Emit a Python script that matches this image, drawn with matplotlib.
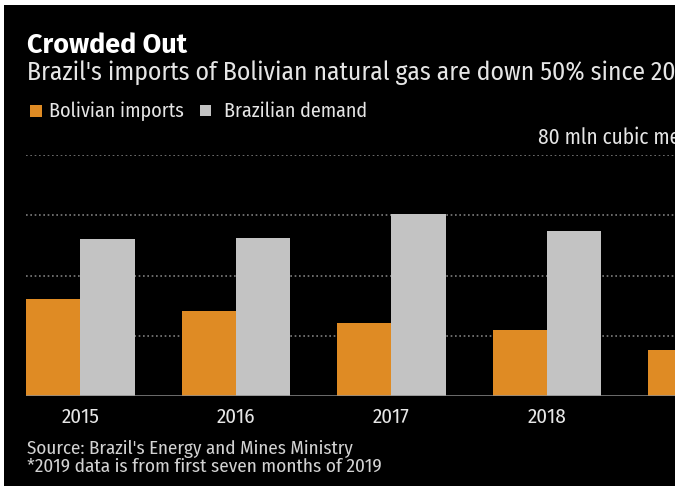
import numpy as np
import matplotlib
matplotlib.use('Agg')
import matplotlib.pyplot as plt
from matplotlib.patches import Rectangle

years = ['2015', '2016', '2017', '2018', '2019*']
bolivian_imports = [32.3, 28.4, 24.4, 22.1, 15.4]
brazilian_demand = [52.2, 52.6, 60.5, 54.9, np.nan]
grid_values = [20, 40, 60, 80]

title = 'Crowded Out'
subtitle = "Brazil's imports of Bolivian natural gas are down 50% since 2015"
legend_labels = ['Bolivian imports', 'Brazilian demand']
unit_label = '80 mln cubic meters per day'
source = "Source: Brazil's Energy and Mines Ministry"
footnote = '*2019 data is from first seven months of 2019'

ORANGE = '#DF8B24'
GRAY = '#C3C3C3'
TEXT = '#E6E6E6'
FONT = ['Fira Sans Condensed', 'DejaVu Sans']
TITLE_FONT = ['Fira Sans', 'DejaVu Sans']
plt.rcParams['font.family'] = FONT

W, H = 675, 486
fig = plt.figure(figsize=(W / 100, H / 100), dpi=100)
fig.patch.set_facecolor('white')
fig.add_artist(Rectangle((4 / W, 0), 1, 1 - 5 / H, transform=fig.transFigure,
                         facecolor='black', edgecolor='none', zorder=-10))
renderer = fig.canvas.get_renderer()


def fx(px):
    return px / W


def fy(py):
    return (H - py) / H


def fit_size(sample, target_px, weight='normal', family=None):
    t = fig.text(0, 0, sample, fontsize=10, fontweight=weight,
                 family=family if family else FONT)
    w = t.get_window_extent(renderer).width
    t.remove()
    return 10 * target_px / w


base_px, top_px = 396.3, 155.0
left_px = 26
group_px = 155.5
ax = fig.add_axes([fx(left_px), fy(base_px), 1 - fx(left_px), (base_px - top_px) / H])
ax.set_facecolor('none')
for s in ax.spines.values():
    s.set_visible(False)

x = np.arange(len(years))
bw = 0.35
ax.bar(x - bw / 2, bolivian_imports, bw, color=ORANGE, zorder=2)
ax.bar(x + bw / 2, brazilian_demand, bw, color=GRAY, zorder=2)
for v in grid_values:
    ax.axhline(v, color='#7e7e7e', lw=1.2, ls=(0, (1, 1.6)), zorder=1)
ax.axhline(0, color='#8c8c8c', lw=1.8, zorder=3)

ax.set_yticks([])
ax.set_xticks(x)
ax.set_xticklabels(years, color=TEXT, fontsize=fit_size('2015', 38))
ax.tick_params(axis='x', length=0, pad=8)
ax.set_xlim(-bw, -bw + (W - left_px) / group_px)
ax.set_ylim(0, 80)

fig.text(fx(27), fy(53), title, color='white',
         fontsize=fit_size(title, 161, 'bold', TITLE_FONT), family=TITLE_FONT,
         fontweight='bold', va='baseline', ha='left')
fig.text(fx(27), fy(79.7), subtitle, color=TEXT,
         fontsize=fit_size("Brazil's imports of Bolivian natural gas are down 50% since 20", 648),
         va='baseline', ha='left')

# legend
leg_size = fit_size(legend_labels[0], 134)
fig.add_artist(Rectangle((fx(30), fy(117)), 12 / W, 12 / H, transform=fig.transFigure,
                         facecolor=ORANGE, edgecolor='none'))
fig.text(fx(49), fy(117), legend_labels[0], color=TEXT, fontsize=leg_size, va='baseline', ha='left')
fig.add_artist(Rectangle((fx(200), fy(116.5)), 11 / W, 11 / H, transform=fig.transFigure,
                         facecolor=GRAY, edgecolor='none'))
fig.text(fx(224), fy(117), legend_labels[1], color=TEXT, fontsize=leg_size, va='baseline', ha='left')

fig.text(fx(538), fy(144), unit_label, color=TEXT, fontsize=fit_size('80 mln cubic', 110),
         va='baseline', ha='left')

fig.text(fx(27), fy(454), source, color='#D2D2D2', fontsize=fit_size(source, 326),
         va='baseline', ha='left')
fig.text(fx(27), fy(471.5), footnote, color='#D2D2D2', fontsize=fit_size(footnote, 354),
         va='baseline', ha='left')

fig.savefig('out.png', dpi=100, facecolor=fig.get_facecolor())
